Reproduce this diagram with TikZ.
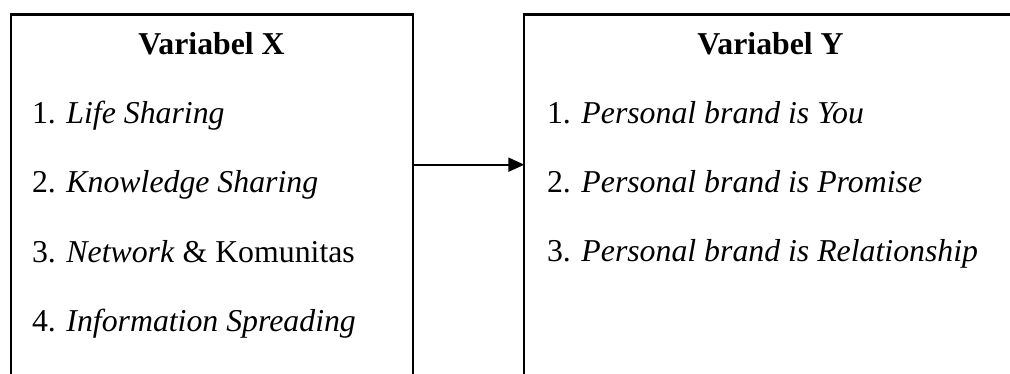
\documentclass[tikz,border=0pt]{standalone}
\usepackage{fontspec}
\setmainfont{Liberation Serif}
\usetikzlibrary{arrows.meta}
\tikzset{
  varbox/.style={draw, line width=2.2pt, inner sep=0pt, outer sep=0pt, anchor=north west, minimum height=430pt},
  txt/.style={inner sep=0pt, outer sep=0pt, font=\fontsize{31.8pt}{38pt}\selectfont},
  item/.style={txt, anchor=base west},
  ttl/.style={txt, anchor=base, font=\fontsize{31.8pt}{38pt}\selectfont\bfseries},
  link/.style={line width=2pt, -{Triangle[length=16pt,width=14pt]}}
}
\begin{document}
\begin{tikzpicture}[x=1pt,y=1pt]
\useasboundingbox (0,0) rectangle (1010,374);
\clip (0,0) rectangle (1010,374);
\node[varbox, minimum width=401.7pt] (boxX) at (11,359.5) {};
\node[varbox, minimum width=600pt] (boxY) at (524.3,359.5) {};
\node[ttl] (tX) at (211.5,319) {Variabel X};
\node[ttl] (tY) at (770.5,319) {Variabel Y};
\node[item] (x1) at (32,250) {1. \textit{Life Sharing}};
\node[item] (x2) at (32,181) {2. \textit{Knowledge Sharing}};
\node[item] (x3) at (32,111.5) {3. \textit{Network} \& Komunitas};
\node[item] (x4) at (32,42) {4. \textit{Information Spreading}};
\node[item] (y1) at (547,250) {1. \textit{Personal brand is You}};
\node[item] (y2) at (547,181) {2. \textit{Personal brand is Promise}};
\node[item] (y3) at (547,112) {3. \textit{Personal brand is Relationship}};
\coordinate (arow) at (0,209.3);
\draw[link] (boxX.east |- arow) -- (boxY.west |- arow);
\end{tikzpicture}
\end{document}
